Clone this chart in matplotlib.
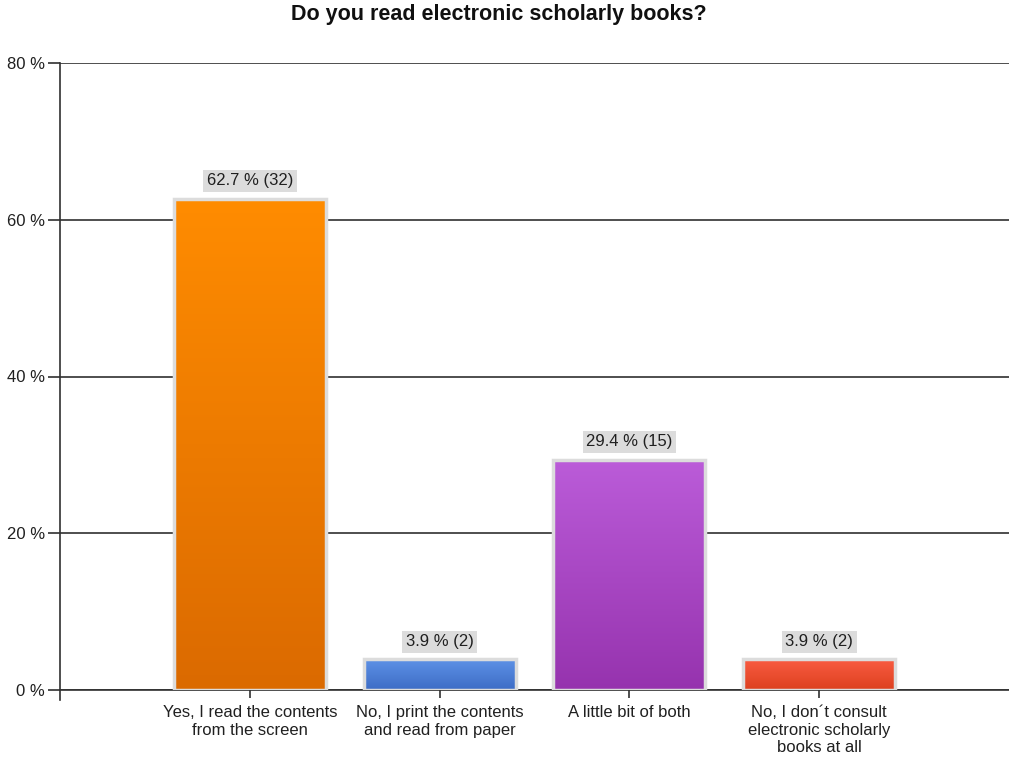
import numpy as np
import matplotlib.pyplot as plt
from matplotlib.colors import LinearSegmentedColormap

plt.rcParams['font.family'] = ['Liberation Sans', 'DejaVu Sans']

# data
categories = ['Yes, I read the contents\nfrom the screen',
              'No, I print the contents\nand read from paper',
              'A little bit of both',
              'No, I don\u00b4t consult\nelectronic scholarly\nbooks at all']
percents = [62.7, 3.9, 29.4, 3.9]
counts = [32, 2, 15, 2]
# (top colour, bottom colour) for each bar
bar_colors = [('#ff8c00', '#db6a00'),
              ('#5e92e6', '#3d6cc6'),
              ('#bb5cd9', '#9633ae'),
              ('#fa5c42', '#dc401f')]


def main():
    fig = plt.figure(figsize=(10.09, 7.58), dpi=100)
    ax = fig.add_axes([60/1009, 68/758, 949/1009, 627/758])

    x = np.arange(1, len(categories) + 1)
    bars = ax.bar(x, percents, width=0.8, color='none', edgecolor='none', zorder=3)

    # gradient fill, clipped to every bar
    for rect, (ctop, cbot) in zip(bars, bar_colors):
        x0, w, h = rect.get_x(), rect.get_width(), rect.get_height()
        cmap = LinearSegmentedColormap.from_list('g', [cbot, ctop])
        grad = np.linspace(0, 1, 256).reshape(-1, 1)
        im = ax.imshow(grad, cmap=cmap, origin='lower', aspect='auto',
                       extent=[x0, x0 + w, 0, h], zorder=3)
        im.set_clip_path(rect)

    # light grey frame round the bars
    ax.bar(x, percents, width=0.8, fill=False, edgecolor='#dcdcdc',
           linewidth=2.5, zorder=4)

    for xi, p, c in zip(x, percents, counts):
        ax.text(xi, p + 1.3, f'{p} % ({c})', ha='center', va='bottom',
                fontsize=12, color='#202020', zorder=5,
                bbox=dict(boxstyle='square,pad=0.22', facecolor='#dcdcdc',
                          edgecolor='none'))

    ax.set_xlim(0, 5)
    ax.set_ylim(0, 80)
    ax.set_yticks([0, 20, 40, 60, 80])
    ax.set_yticklabels(['0 %', '20 %', '40 %', '60 %', '80 %'])
    ax.set_xticks(x)
    ax.set_xticklabels(categories, linespacing=1.2)

    ax.yaxis.grid(True, color='#303030', linewidth=1.2, zorder=1)
    ax.set_axisbelow(True)
    ax.spines['top'].set_visible(False)
    ax.spines['right'].set_visible(False)
    ax.spines['left'].set_color('#303030')
    ax.spines['bottom'].set_color('#303030')
    ax.spines['left'].set_linewidth(1.2)
    ax.spines['bottom'].set_linewidth(1.2)
    ax.spines['left'].set_bounds(-1.3, 80)

    ax.tick_params(axis='y', length=9, width=1.2, color='#303030',
                   labelsize=12, labelcolor='#202020', pad=2)
    ax.tick_params(axis='x', length=6, width=1.2, color='#303030',
                   labelsize=12, labelcolor='#202020', pad=5)

    fig.suptitle('Do you read electronic scholarly books?', x=0.494, y=0.995,
                 fontsize=15.5, fontweight='bold', color='#101010')

    plt.savefig('out.png', dpi=100)


main()
